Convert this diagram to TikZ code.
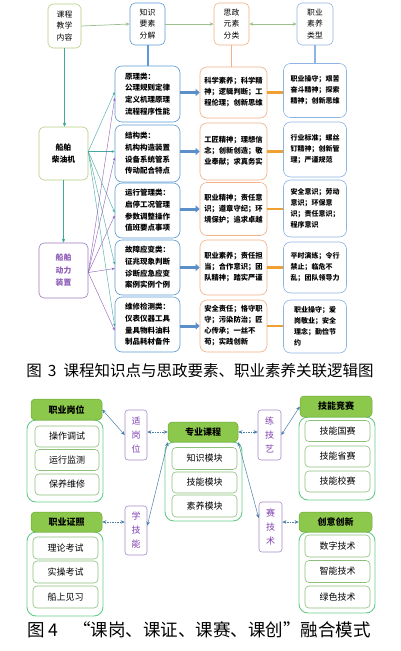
\documentclass[tikz,border=0pt]{standalone}
\usepackage{fontspec}
\setmainfont{Noto Sans CJK SC}
\usetikzlibrary{arrows.meta,calc}
\definecolor{kgreen}{HTML}{B4CD82}
\definecolor{kblue}{HTML}{5B9BD5}
\definecolor{korange}{HTML}{F4B183}
\definecolor{kblue2}{HTML}{8DB4E2}
\definecolor{tealc}{HTML}{40A8A0}
\definecolor{toparr}{HTML}{9CC08C}
\definecolor{thickblue}{HTML}{5B8FC8}
\definecolor{thickor}{HTML}{F0A030}
\definecolor{purpl}{HTML}{8E5DB8}
\definecolor{purplb}{HTML}{9B7BC0}
\definecolor{gfill}{HTML}{8CC84B}
\definecolor{gdark}{HTML}{6FA83A}
\definecolor{gcont}{HTML}{66CC88}
\definecolor{gitem}{HTML}{8CBF7A}
\definecolor{pborder}{HTML}{A58BC9}
\definecolor{ptext}{HTML}{8040B0}
\definecolor{lkcol}{HTML}{4A7FA8}
\begin{document}
\begin{tikzpicture}[x=1pt,y=-1pt,
  box/.style={draw, line width=0.6pt, inner sep=0pt, align=center, fill=white},
  hd/.style={box, rounded corners=5pt, font=\fontsize{7.8}{11.5}\selectfont},
  kb/.style={box, draw=kblue, rounded corners=7pt, align=left, minimum width=65pt, font=\bfseries\fontsize{7.5}{11.7}\selectfont},
  sb/.style={box, draw=korange, rounded corners=7pt, align=left, minimum width=67pt, font=\bfseries\fontsize{7.3}{11}\selectfont},
  zb/.style={box, draw=kblue2, rounded corners=7pt, align=left, minimum width=63pt, font=\bfseries\fontsize{7}{11}\selectfont},
  fan1/.style={draw=tealc, line width=0.4pt, -{Stealth[length=3pt,width=2.5pt]}},
  fan2/.style={draw=purpl, line width=0.4pt, -{Stealth[length=3pt,width=2.5pt]}},
  barb/.style={draw=thickblue, line width=3pt, -{Triangle[length=4pt,width=7pt]}},
  baro/.style={draw=thickor, line width=2.6pt},
  ghd/.style={draw=gdark, fill=gfill, line width=0.5pt, rounded corners=4pt, inner sep=0pt, font=\bfseries\fontsize{9}{11}\selectfont},
  gct/.style={draw=gcont, fill=white, line width=0.9pt, rounded corners=9pt, inner sep=0pt},
  git/.style={draw=gitem, fill=white, line width=0.6pt, rounded corners=4pt, inner sep=0pt, font=\fontsize{9}{11}\selectfont},
  pbox/.style={draw=pborder, line width=0.6pt, rounded corners=3pt, inner sep=0pt, text=ptext, align=center, font=\fontsize{9}{14}\selectfont},
  lk/.style={draw=lkcol, line width=0.5pt, {Stealth[length=4pt,width=3.5pt]}-{Stealth[length=4pt,width=3.5pt]}},
  lkd/.style={lk, dash pattern=on 1.5pt off 1pt}
]
\useasboundingbox (0,0) rectangle (401,651);

% ===== Figure 3 =====
\node[hd, draw=kgreen, minimum width=33pt, minimum height=44pt] (k1) at (64.5,26) {课程\\教学\\内容};
\node[hd, draw=kblue, minimum width=35pt, minimum height=42pt] (k2) at (147.5,24) {知识\\要素\\分解};
\node[hd, draw=korange, minimum width=35pt, minimum height=42pt] (k3) at (231.5,24) {思政\\元素\\分类};
\node[hd, draw=kblue2, minimum width=36pt, minimum height=42pt] (k4) at (315,24) {职业\\素养\\类型};

\node[hd, draw=kgreen, minimum width=49pt, minimum height=53pt, font=\bfseries\fontsize{7.8}{12}\selectfont] (m1) at (63.5,153.5) {船舶\\柴油机};
\node[hd, draw=purplb, text=purpl, minimum width=49pt, minimum height=55pt, font=\bfseries\fontsize{7.8}{12.5}\selectfont] (m2) at (63.5,270.5) {船舶\\动力\\装置};

\node[kb, minimum height=56pt] (a1) at (147.5,94) {原理类：\\公理规则定律\\定义机理原理\\流程程序性能};
\node[kb, minimum height=57pt] (a2) at (147.5,153.5) {结构类：\\机构构造装置\\设备系统管系\\传动配合特点};
\node[kb, minimum height=55pt] (a3) at (147.5,210.5) {运行管理类：\\启停工况管理\\参数调整操作\\值班要点事项};
\node[kb, minimum height=55pt] (a4) at (147.5,267.5) {故障应变类：\\征兆现象判断\\诊断应急应变\\案例实例个例};
\node[kb, minimum height=55pt] (a5) at (147.5,324.5) {维修检测类：\\仪表仪器工具\\量具物料油料\\制品耗材备件};

\node[sb, minimum height=51pt] (b1) at (233.5,92.5) {科学素养；科学精\\神；逻辑判断；工\\程伦理；创新思维};
\node[sb, minimum height=57pt] (b2) at (233.5,151.5) {工匠精神；理想信\\念；创新创造；敬\\业奉献；求真务实};
\node[sb, minimum height=53pt] (b3) at (233.5,209) {职业精神；责任意\\识；遵章守纪；环\\境保护；追求卓越};
\node[sb, minimum height=55pt] (b4) at (233.5,267.5) {职业素养；责任担\\当；合作意识；团\\队精神；踏实严谨};
\node[sb, minimum height=52pt] (b5) at (233.5,326) {安全责任；恪守职\\守；污染防治；匠\\心传承；一丝不\\苟；实践创新};

\node[zb, minimum height=54pt] (c1) at (315,90.5) {职业操守；艰苦\\奋斗精神；探索\\精神；创新思维};
\node[zb, minimum height=55pt] (c2) at (315,149.5) {行业标准；螺丝\\钉精神；创新管\\理；严谨规范};
\node[zb, minimum height=57pt] (c3) at (315,208.5) {安全意识；劳动\\意识；环保意\\识；责任意识；\\程序意识};
\node[zb, minimum height=51pt] (c4) at (315,267.5) {平时演练；令行\\禁止；临危不\\乱；团队领导力};
\node[zb, minimum height=53pt] (c5) at (315,326.5) {职业操守；爱\\岗敬业；安全\\理念；勤俭节\\约};

% top connectors
\draw[toparr, line width=0.7pt, -{Stealth[length=4pt,width=3.5pt]}] (k1.east) -- (k2.west);
\draw[toparr, line width=0.7pt, -{Stealth[length=4pt,width=3.5pt]}] (k2.east) -- (k3.west);
\draw[toparr, line width=0.7pt, {Stealth[length=4pt,width=3.5pt]}-{Stealth[length=4pt,width=3.5pt]}] (k3.east) -- (k4.west);
\draw[kblue, line width=2pt] (k2.south) -- (a1.north);
\draw[korange, line width=1.5pt] (k3.south) -- (b1.north -| k3.south);
\draw[kblue2, line width=1.5pt] (k4.south) -- (c1.north);
\draw[tealc, line width=0.6pt, -{Stealth[length=4pt,width=3.5pt]}] (k1.south) -- (m1.north -| k1.south);
\draw[tealc, line width=0.6pt, -{Stealth[length=4pt,width=3.5pt]}] (m1.south) -- (m2.north);

% fan lines
\foreach \t/\d in {a1/-2,a2/-2,a3/2,a4/-3,a5/2}{
  \draw[fan1] ($(m1.east)+(0,-2)$) -- ($(\t.west)+(0,\d)$);
}
\foreach \t/\d in {a1/4,a2/4,a3/5,a4/1,a5/6}{
  \draw[fan2] ($(m2.east)+(0,2)$) -- ($(\t.west)+(0,\d)$);
}

% column arrows
\foreach \i in {1,...,5}{
  \draw[barb] (a\i.east |- b\i.west) -- (b\i.west);
  \draw[baro] (b\i.east) -- (c\i.west |- b\i.east);
}

\node[font=\fontsize{15.5}{18}\selectfont, inner sep=0pt] (cap3) at (200,371) {图\hspace{6pt}3\hspace{7pt}课程知识点与思政要素、职业素养关联逻辑图};

% ===== Figure 4 =====
\node[gct, minimum width=76pt, minimum height=82pt] (g1) at (65,461) {};
\node[ghd, minimum width=71pt, minimum height=21pt] (h1) at (66.5,409.5) {职业岗位};
\node[git, minimum width=64pt, minimum height=21pt] (i11) at (67,436.5) {操作调试};
\node[git, minimum width=64pt, minimum height=21pt] (i12) at (67,460) {运行监测};
\node[git, minimum width=64pt, minimum height=21pt] (i13) at (67,484.5) {保养维修};

\node[gct, minimum width=77pt, minimum height=79pt] (g2) at (203.5,481.5) {};
\node[ghd, minimum width=70pt, minimum height=20pt] (h2) at (203,432) {专业课程};
\node[git, minimum width=65pt, minimum height=22pt] (i21) at (204.5,458.5) {知识模块};
\node[git, minimum width=65pt, minimum height=21pt] (i22) at (204.5,482.5) {技能模块};
\node[git, minimum width=65pt, minimum height=22pt] (i23) at (204.5,506) {素养模块};

\node[gct, minimum width=76pt, minimum height=83pt] (g3) at (337,458.5) {};
\node[ghd, minimum width=72pt, minimum height=21pt] (h3) at (336,406.5) {技能竞赛};
\node[git, minimum width=65pt, minimum height=21pt] (i31) at (337.5,431) {技能国赛};
\node[git, minimum width=65pt, minimum height=21pt] (i32) at (337.5,456.5) {技能省赛};
\node[git, minimum width=65pt, minimum height=21pt] (i33) at (337.5,481.5) {技能校赛};

\node[gct, minimum width=76pt, minimum height=84pt] (g4) at (65,574) {};
\node[ghd, minimum width=71pt, minimum height=20pt] (h4) at (66.5,522) {职业证照};
\node[git, minimum width=65pt, minimum height=22pt] (i41) at (65.5,548) {理论考试};
\node[git, minimum width=65pt, minimum height=22pt] (i42) at (65.5,572) {实操考试};
\node[git, minimum width=65pt, minimum height=22pt] (i43) at (65.5,597) {船上见习};

\node[gct, minimum width=76pt, minimum height=81pt] (g5) at (337,572.5) {};
\node[ghd, minimum width=73pt, minimum height=20pt] (h5) at (335.5,522) {创意创新};
\node[git, minimum width=65pt, minimum height=22pt] (i51) at (337.5,546) {数字技术};
\node[git, minimum width=65pt, minimum height=22pt] (i52) at (337.5,571.5) {智能技术};
\node[git, minimum width=65pt, minimum height=22pt] (i53) at (337.5,597) {绿色技术};

\node[pbox, minimum width=22pt, minimum height=50pt] (p1) at (136,435) {适\\岗\\位};
\node[pbox, minimum width=23pt, minimum height=50pt] (p2) at (269.5,435) {练\\技\\艺};
\node[pbox, minimum width=22pt, minimum height=49pt] (p3) at (136,530.5) {学\\技\\能};
\node[pbox, minimum width=23pt, minimum height=50pt] (p4) at (270.5,527) {赛\\技\\术};

\draw[lk] (h1.east) -- (p1.west);
\draw[lkd] (p1.east |- h2.west) -- (h2.west);
\draw[lkd] (h2.east) -- (p2.west |- h2.east);
\draw[lk] (p2.east) -- (h3.west);
\draw[lkd] (h4.east) -- (p3.west |- h4.east);
\draw[lk] ($(p3.east)+(0,-5)$) -- (h2.south west);
\draw[lk] (h2.south east) -- ($(p4.west)+(0,-9)$);
\draw[lkd] (p4.east |- h5.west) -- (h5.west);

\node[font=\fontsize{17.5}{20}\selectfont, inner sep=0pt] (cap4) at (199,630) {图\hspace{4pt}4\hspace{15pt}“课岗、课证、课赛、课创”融合模式};
\end{tikzpicture}
\end{document}
